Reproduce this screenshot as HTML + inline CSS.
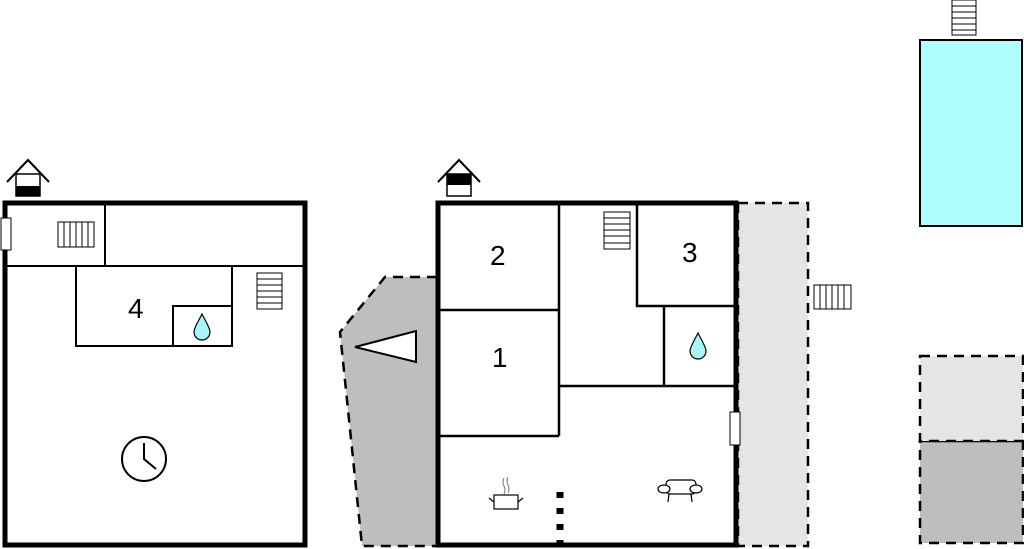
<!DOCTYPE html>
<html><head><meta charset="utf-8"><style>html,body{margin:0;padding:0;background:#fff}svg{display:block}text{font-family:"Liberation Sans",sans-serif;font-size:28px}</style></head><body>
<svg width="1024" height="549" viewBox="0 0 1024 549" xmlns="http://www.w3.org/2000/svg">
<!-- Left building -->
<rect x="5" y="203" width="300" height="342" fill="#fff" stroke="#000" stroke-width="5"/>
<g stroke="#000" stroke-width="2" fill="none">
<line x1="5" y1="266" x2="305" y2="266"/>
<line x1="105" y1="203" x2="105" y2="266"/>
<rect x="76" y="266" width="156" height="80"/>
<rect x="173" y="306" width="59" height="40"/>
</g>
<g stroke="#000" stroke-width="1" fill="#fff">
<rect x="58" y="222" width="36" height="25"/>
<line x1="64" y1="222" x2="64" y2="247"/><line x1="70" y1="222" x2="70" y2="247"/><line x1="76" y1="222" x2="76" y2="247"/><line x1="82" y1="222" x2="82" y2="247"/><line x1="88" y1="222" x2="88" y2="247"/>
<rect x="257" y="273" width="25" height="36"/>
<line x1="257" y1="279" x2="282" y2="279"/><line x1="257" y1="285" x2="282" y2="285"/><line x1="257" y1="291" x2="282" y2="291"/><line x1="257" y1="297" x2="282" y2="297"/><line x1="257" y1="303" x2="282" y2="303"/>
<rect x="1" y="218" width="10" height="32"/>
</g>
<text x="128" y="318">4</text>
<path d="M202,314 C198,322 194,328 194,332 A8,8 0 0 0 210,332 C210,328 206,322 202,314Z" fill="#aaf5f8" stroke="#000" stroke-width="1.2"/>
<circle cx="144" cy="459" r="22" fill="#fff" stroke="#000" stroke-width="2"/>
<polyline points="144,443 144,459 156,469" fill="none" stroke="#000" stroke-width="2"/>
<!-- house icons -->
<polyline points="7,182 28,160 49,182" fill="none" stroke="#000" stroke-width="2"/>
<rect x="16" y="174" width="24" height="22" fill="#fff" stroke="#000" stroke-width="1.5"/>
<rect x="16" y="186" width="24" height="10" fill="#000"/>
<polyline points="438,182 459,160 480,182" fill="none" stroke="#000" stroke-width="2"/>
<rect x="447" y="174" width="24" height="22" fill="#fff" stroke="#000" stroke-width="1.5"/>
<rect x="447" y="174" width="24" height="11" fill="#000"/>
<!-- Gray polygon left -->
<polygon points="437,277 385,277 340,332 362,546 437,546" fill="#bebebe" stroke="#000" stroke-width="2.5" stroke-dasharray="10,7"/>
<polygon points="355,347 416,331 416,362" fill="#fff" stroke="#000" stroke-width="2"/>
<!-- Light gray right -->
<rect x="738" y="203" width="70" height="343" fill="#e5e5e5" stroke="#000" stroke-width="2.5" stroke-dasharray="10,7"/>
<!-- Middle building -->
<rect x="438" y="203" width="298" height="342" fill="#fff" stroke="#000" stroke-width="5"/>
<g stroke="#000" stroke-width="2.5" fill="none">
<line x1="559" y1="203" x2="559" y2="436"/>
<line x1="438" y1="310" x2="559" y2="310"/>
<line x1="438" y1="436" x2="559" y2="436"/>
<polyline points="637,203 637,306 736,306"/>
<line x1="664" y1="306" x2="664" y2="386"/>
<line x1="559" y1="386" x2="736" y2="386"/>
</g>
<line x1="560" y1="492" x2="560" y2="546" stroke="#000" stroke-width="7" stroke-dasharray="6,10"/>
<g stroke="#000" stroke-width="1" fill="#fff">
<rect x="604" y="212" width="26" height="37"/>
<line x1="604" y1="218" x2="630" y2="218"/><line x1="604" y1="224" x2="630" y2="224"/><line x1="604" y1="230" x2="630" y2="230"/><line x1="604" y1="236" x2="630" y2="236"/><line x1="604" y1="243" x2="630" y2="243"/>
<rect x="814" y="285" width="37" height="24"/>
<line x1="820" y1="285" x2="820" y2="309"/><line x1="826" y1="285" x2="826" y2="309"/><line x1="832" y1="285" x2="832" y2="309"/><line x1="838" y1="285" x2="838" y2="309"/><line x1="844" y1="285" x2="844" y2="309"/>
<rect x="730" y="412" width="10" height="33"/>
<rect x="952" y="0" width="24" height="35"/>
<line x1="952" y1="6" x2="976" y2="6"/><line x1="952" y1="12" x2="976" y2="12"/><line x1="952" y1="18" x2="976" y2="18"/><line x1="952" y1="24" x2="976" y2="24"/><line x1="952" y1="30" x2="976" y2="30"/>
</g>
<text x="490" y="265">2</text>
<text x="682" y="262">3</text>
<text x="492" y="367">1</text>
<path d="M698,333 C694,341 690,347 690,351 A8,8 0 0 0 706,351 C706,347 702,341 698,333Z" fill="#aaf5f8" stroke="#000" stroke-width="1.2"/>
<!-- pot -->
<g stroke="#000" stroke-width="1.2" fill="#fff">
<rect x="494" y="495" width="24" height="14"/>
<line x1="489" y1="498" x2="494" y2="502"/><line x1="523" y1="498" x2="518" y2="502"/>
<path d="M504,478 q-2,4 0,8 q2,4 0,8 M508,477 q-2,4 0,8 q2,4 0,8" fill="none" stroke="#888"/>
</g>
<!-- armchair -->
<g stroke="#000" stroke-width="1.2" fill="#fff">
<rect x="666" y="480" width="30" height="14" rx="4"/>
<ellipse cx="664" cy="489" rx="6" ry="4"/><ellipse cx="696" cy="489" rx="6" ry="4"/>
<line x1="669" y1="494" x2="668" y2="502"/><line x1="691" y1="494" x2="692" y2="502"/>
</g>
<!-- Right -->
<rect x="920" y="40" width="102" height="186" fill="#afffff" stroke="#000" stroke-width="2"/>
<rect x="920" y="441" width="103" height="102" fill="#bebebe" stroke="#000" stroke-width="2.5" stroke-dasharray="10,7"/>
<rect x="920" y="356" width="103" height="85" fill="#e5e5e5" stroke="#000" stroke-width="2.5" stroke-dasharray="10,7"/>
</svg>
</body></html>
